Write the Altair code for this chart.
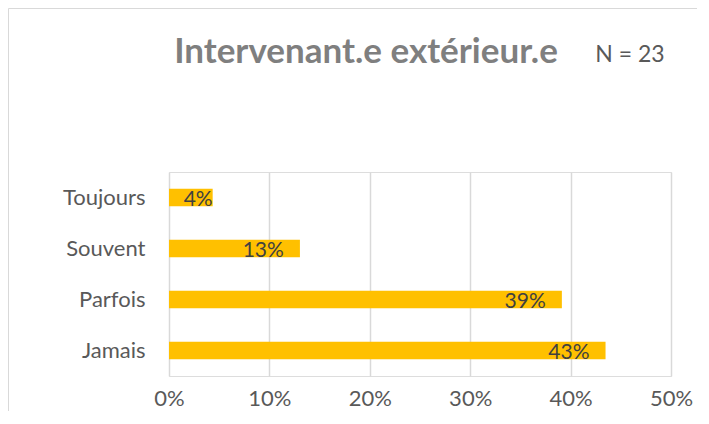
import altair as alt
import pandas as pd

categories = ["Toujours", "Souvent", "Parfois", "Jamais"]
values = [0.0435, 0.1304, 0.3913, 0.4348]
x_ticks = [0, 0.1, 0.2, 0.3, 0.4, 0.5]
title_text = "Intervenant.e extérieur.e"
n_text = "N = 23"

df = pd.DataFrame({"cat": categories, "v": values})
FONT = "Lato"

x_enc = alt.X("v:Q", scale=alt.Scale(domain=[0, 0.5], nice=False),
              axis=alt.Axis(values=x_ticks, format=".0%", title=None, domain=False,
                            ticks=False, labelPadding=12, labelFontSize=22,
                            labelFlush=False,
                            labelColor="#595959", labelFont=FONT,
                            gridColor="#d9d9d9", gridWidth=1.5))
y_enc = alt.Y("cat:N", sort=categories,
              scale=alt.Scale(paddingInner=0.66, paddingOuter=0.33),
              axis=alt.Axis(title=None, domain=False, ticks=False, labelPadding=24,
                            labelFontSize=22, labelColor="#595959", labelFont=FONT))

base = alt.Chart(df)
bars = base.mark_bar(color="#FFC000").encode(x=x_enc, y=y_enc)
labels = base.transform_calculate(
    lx="datum.v > 0.08 ? datum.v - 0.016 : datum.v",
    lab="format(datum.v, '.0%')"
).mark_text(align="right", baseline="middle", dy=2, fontSize=21, font=FONT,
            color="#404040").encode(x=alt.X("lx:Q"), y=alt.Y("cat:N", sort=categories),
                                    text="lab:N")

one = alt.Chart(pd.DataFrame({"a": [0]}))
top_line = one.mark_rule(stroke="#d9d9d9", strokeWidth=1).encode(
    x=alt.value(-160.5), x2=alt.value(700), y=alt.value(-163.5))
left_line = one.mark_rule(stroke="#d9d9d9", strokeWidth=1).encode(
    x=alt.value(-160.5), y=alt.value(-163.5), y2=alt.value(400))
title = one.mark_text(align="center", baseline="alphabetic", fontSize=35,
                      fontWeight="bold", font=FONT, color="#7f7f7f").encode(
    x=alt.value(197), y=alt.value(-109), text=alt.value(title_text))
ntext = one.mark_text(align="center", baseline="alphabetic", fontSize=23,
                      font=FONT, color="#595959").encode(
    x=alt.value(461), y=alt.value(-110), text=alt.value(n_text))

chart = alt.layer(top_line, left_line, bars, labels, title, ntext).properties(
    width=502, height=204, autosize="none",
    padding={"left": 161, "top": 164, "right": 26, "bottom": 35}
).configure_view(stroke=None).configure(background="white")

chart.save("out.html", embed_options={"renderer": "svg", "actions": False})
